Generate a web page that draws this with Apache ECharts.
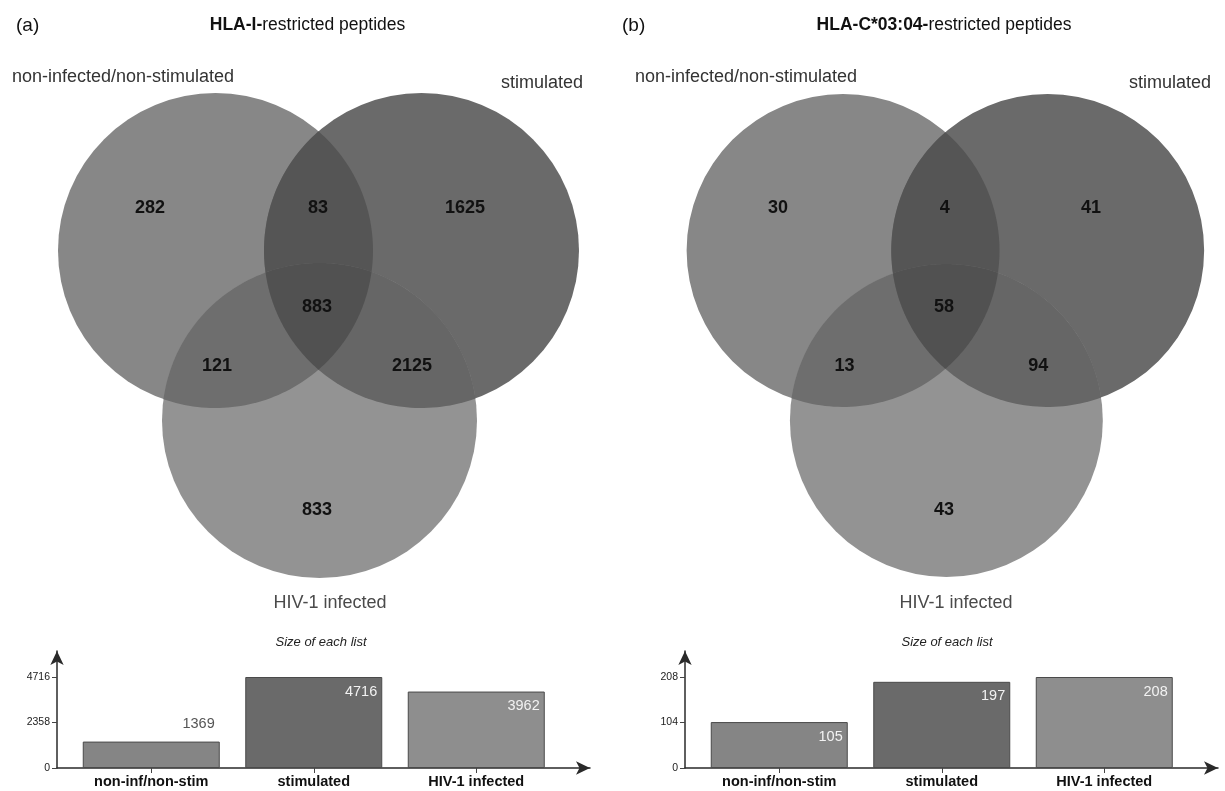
<!DOCTYPE html>
<html>
<head>
<meta charset="utf-8">
<script src="https://cdn.jsdelivr.net/npm/echarts@6/dist/echarts.min.js"></script>
<style>html,body{margin:0;padding:0;background:#fff}#chart{width:1225px;height:791px}</style>
</head>
<body>
<div id="chart"></div>
<script>
// ---------------- data ----------------
const setNames = ['non-infected/non-stimulated', 'stimulated', 'HIV-1 infected'];
const regionKeys = ['A', 'B', 'C', 'AB', 'AC', 'BC', 'ABC'];
const countsHLAI = [282, 1625, 833, 83, 121, 2125, 883];
const countsHLAC = [30, 41, 43, 4, 13, 94, 58];
const barCategories = ['non-inf/non-stim', 'stimulated', 'HIV-1 infected'];
const listSizeHLAI = [1369, 4716, 3962];
const listSizeHLAC = [105, 197, 208];
const yTicksHLAI = [0, 2358, 4716];
const yTicksHLAC = [0, 104, 208];
const panelTitles = [['HLA-I-', 'restricted peptides'], ['HLA-C*03:04-', 'restricted peptides']];
const panelTags = ['(a)', '(b)'];
const barTitle = 'Size of each list';

// ---------------- layout & style ----------------
const FONT = '"Liberation Sans", Arial, Helvetica, sans-serif';
const VENN_X = [0, 629];
const CIRCLES = [{x: 215.5, y: 250.5}, {x: 421.5, y: 250.5}, {x: 319.5, y: 420.5}];
const RADIUS = 157.5;
const LABEL_POS = {A: [150, 208], B: [465, 208], C: [317, 510], AB: [318, 208], AC: [217, 366], BC: [412, 366], ABC: [317, 307]};
const VENN_COLORS = {A: '#878787', B: '#6a6a6a', C: '#939393', AB: '#555555', AC: '#6e6e6e', BC: '#666666', ABC: '#515151'};
const BAR_COLORS = ['#858585', '#6a6a6a', '#8e8e8e'];
const BAR_GRID_LEFT = [57, 685];
const Y_HEADROOM = 117 / 91;

function intersect(a, b) {
  const dx = b.x - a.x, dy = b.y - a.y, d = Math.hypot(dx, dy);
  const l = (a.r * a.r - b.r * b.r + d * d) / (2 * d);
  const h = Math.sqrt(Math.max(0, a.r * a.r - l * l));
  const mx = a.x + l * dx / d, my = a.y + l * dy / d;
  return [{x: mx + h * dy / d, y: my - h * dx / d}, {x: mx - h * dy / d, y: my + h * dx / d}];
}
function inside(p, c) { return Math.hypot(p.x - c.x, p.y - c.y) < c.r - 0.01; }
function arcPts(c, p, q, others) {
  const a0 = Math.atan2(p.y - c.y, p.x - c.x);
  const a1 = Math.atan2(q.y - c.y, q.x - c.x);
  let d = a1 - a0; while (d < 0) d += 2 * Math.PI;
  let best = d;
  for (const dd of [d, d - 2 * Math.PI]) {
    const am = a0 + dd / 2;
    const m = {x: c.x + c.r * Math.cos(am), y: c.y + c.r * Math.sin(am)};
    if (others.every(o => inside(m, o))) { best = dd; break; }
  }
  const pts = [], N = 64;
  for (let k = 0; k <= N; k++) {
    const a = a0 + best * k / N;
    pts.push([c.x + c.r * Math.cos(a), c.y + c.r * Math.sin(a)]);
  }
  return pts;
}
function pickInside(pair, c) { return inside(pair[0], c) ? pair[0] : pair[1]; }

function vennSeries(idx, counts) {
  return {
    type: 'custom', coordinateSystem: 'cartesian2d', xAxisIndex: idx, yAxisIndex: idx,
    silent: true, animation: false,
    data: regionKeys.map((k, i) => [i, counts[i]]),
    renderItem: function (params, api) {
      const i = api.value(0);
      const key = regionKeys[i];
      const r = api.size([RADIUS, 0])[0];
      const cs = CIRCLES.map(c => { const p = api.coord([c.x, c.y]); return {x: p[0], y: p[1], r: r}; });
      const [A, B, C] = cs;
      let shape;
      const fill = VENN_COLORS[key];
      if (key.length === 1) {
        const c = cs['ABC'.indexOf(key)];
        shape = {type: 'circle', shape: {cx: c.x, cy: c.y, r: c.r}, style: {fill: fill}};
      } else if (key.length === 2) {
        const c1 = cs['ABC'.indexOf(key[0])], c2 = cs['ABC'.indexOf(key[1])];
        const [P, Q] = intersect(c1, c2);
        const pts = arcPts(c1, P, Q, [c2]).concat(arcPts(c2, Q, P, [c1]));
        shape = {type: 'polygon', shape: {points: pts}, style: {fill: fill}};
      } else {
        const pAB = pickInside(intersect(A, B), C);
        const pAC = pickInside(intersect(A, C), B);
        const pBC = pickInside(intersect(B, C), A);
        const pts = arcPts(A, pAB, pAC, [B, C]).concat(arcPts(C, pAC, pBC, [A, B]), arcPts(B, pBC, pAB, [A, C]));
        shape = {type: 'polygon', shape: {points: pts}, style: {fill: fill}};
      }
      const lp = api.coord(LABEL_POS[key]);
      const label = {
        type: 'text', x: lp[0], y: lp[1], z2: 100,
        style: {text: String(api.value(1)), fill: '#111', fontSize: 18, fontWeight: 'bold', fontFamily: FONT,
                align: 'center', verticalAlign: 'middle'}
      };
      return {type: 'group', children: [shape, label]};
    }
  };
}

const LABEL_IN = {position: ['100%', 0], align: 'right', verticalAlign: 'top', offset: [-5, 7], color: '#f2f2f2'};
const LABEL_OUT = {position: ['100%', 0], align: 'right', verticalAlign: 'bottom', offset: [-5, -10], color: '#555'};
function barSeries(idx, values) {
  const max = Math.max(...values);
  return {
    type: 'bar', xAxisIndex: idx, yAxisIndex: idx, barWidth: 137, animation: false,
    itemStyle: {borderColor: '#4a4a4a', borderWidth: 1},
    label: {show: true, fontSize: 14.5, fontFamily: FONT, formatter: p => String(p.value[1])},
    data: values.map((v, i) => ({
      value: [i, v],
      itemStyle: {color: BAR_COLORS[i]},
      label: v / max < 0.35 ? LABEL_OUT : LABEL_IN
    }))
  };
}

const axisLineStyle = {color: '#2a2a2a', width: 1.5};
function barXAxis(idx) {
  return {
    type: 'value', gridIndex: idx, min: -0.58, max: 2.70,
    axisLine: {show: true, onZero: false, lineStyle: axisLineStyle, symbol: ['none', 'arrow'], symbolSize: [10, 14]},
    axisTick: {show: true, customValues: [0, 1, 2], length: 5, lineStyle: {color: '#444'}},
    axisLabel: {customValues: [0, 1, 2], formatter: v => barCategories[v] || '', fontSize: 14.5, fontWeight: 'bold',
                fontFamily: FONT, color: '#111', margin: 6},
    splitLine: {show: false}
  };
}
function barYAxis(idx, ticks) {
  return {
    type: 'value', gridIndex: idx, min: 0, max: ticks[ticks.length - 1] * Y_HEADROOM,
    axisLine: {show: true, onZero: false, lineStyle: axisLineStyle, symbol: ['none', 'arrow'], symbolSize: [10, 14]},
    axisTick: {show: true, customValues: ticks, length: 5, lineStyle: {color: '#444'}},
    axisLabel: {customValues: ticks, formatter: v => String(v), fontSize: 10.5, fontFamily: FONT, color: '#222', margin: 7},
    splitLine: {show: false}
  };
}

const TITLE_X = [307.5, 944];
const TAG_X = [16, 622];
const SET1_LEFT = [12, 635];
const SET2_RIGHT = [583, 1211];
const SET3_CX = [330, 956];
const BARTITLE_CX = [321, 947];

const graphics = [];
[0, 1].forEach(p => {
  graphics.push({type: 'text', x: TAG_X[p], y: 26, style: {text: panelTags[p], fontSize: 19, fontFamily: FONT, fill: '#111', align: 'left', verticalAlign: 'middle'}});
  graphics.push({type: 'text', x: TITLE_X[p], y: 25, style: {
    text: '{b|' + panelTitles[p][0] + '}{n|' + panelTitles[p][1] + '}', align: 'center', verticalAlign: 'middle',
    rich: {b: {fontSize: 17.5, fontWeight: 'bold', fontFamily: FONT, fill: '#111'}, n: {fontSize: 17.5, fontFamily: FONT, fill: '#111'}}
  }});
  graphics.push({type: 'text', x: SET1_LEFT[p], y: 77, style: {text: setNames[0], fontSize: 18, fontFamily: FONT, fill: '#333', align: 'left', verticalAlign: 'middle'}});
  graphics.push({type: 'text', x: SET2_RIGHT[p], y: 83, style: {text: setNames[1], fontSize: 18, fontFamily: FONT, fill: '#333', align: 'right', verticalAlign: 'middle'}});
  graphics.push({type: 'text', x: SET3_CX[p], y: 603, style: {text: setNames[2], fontSize: 18, fontFamily: FONT, fill: '#4a4a4a', align: 'center', verticalAlign: 'middle'}});
  graphics.push({type: 'text', x: BARTITLE_CX[p], y: 642, style: {text: barTitle, fontSize: 13, fontStyle: 'italic', fontFamily: FONT, fill: '#222', align: 'center', verticalAlign: 'middle'}});
});

const option = {
  backgroundColor: '#fff',
  animation: false,
  grid: [
    {left: VENN_X[0], top: 0, width: 600, height: 620},
    {left: VENN_X[1], top: 0, width: 600, height: 620},
    {left: BAR_GRID_LEFT[0], top: 651, width: 533, height: 117},
    {left: BAR_GRID_LEFT[1], top: 651, width: 533, height: 117}
  ],
  xAxis: [
    {type: 'value', gridIndex: 0, min: 0, max: 600, show: false},
    {type: 'value', gridIndex: 1, min: 0, max: 600, show: false},
    barXAxis(2), barXAxis(3)
  ],
  yAxis: [
    {type: 'value', gridIndex: 0, min: 0, max: 620, inverse: true, show: false},
    {type: 'value', gridIndex: 1, min: 0, max: 620, inverse: true, show: false},
    barYAxis(2, yTicksHLAI), barYAxis(3, yTicksHLAC)
  ],
  series: [
    vennSeries(0, countsHLAI), vennSeries(1, countsHLAC),
    barSeries(2, listSizeHLAI), barSeries(3, listSizeHLAC)
  ],
  graphic: graphics
};

const chart = echarts.init(document.getElementById('chart'), null, {renderer: 'canvas'});
chart.setOption(option);
</script>
</body>
</html>
